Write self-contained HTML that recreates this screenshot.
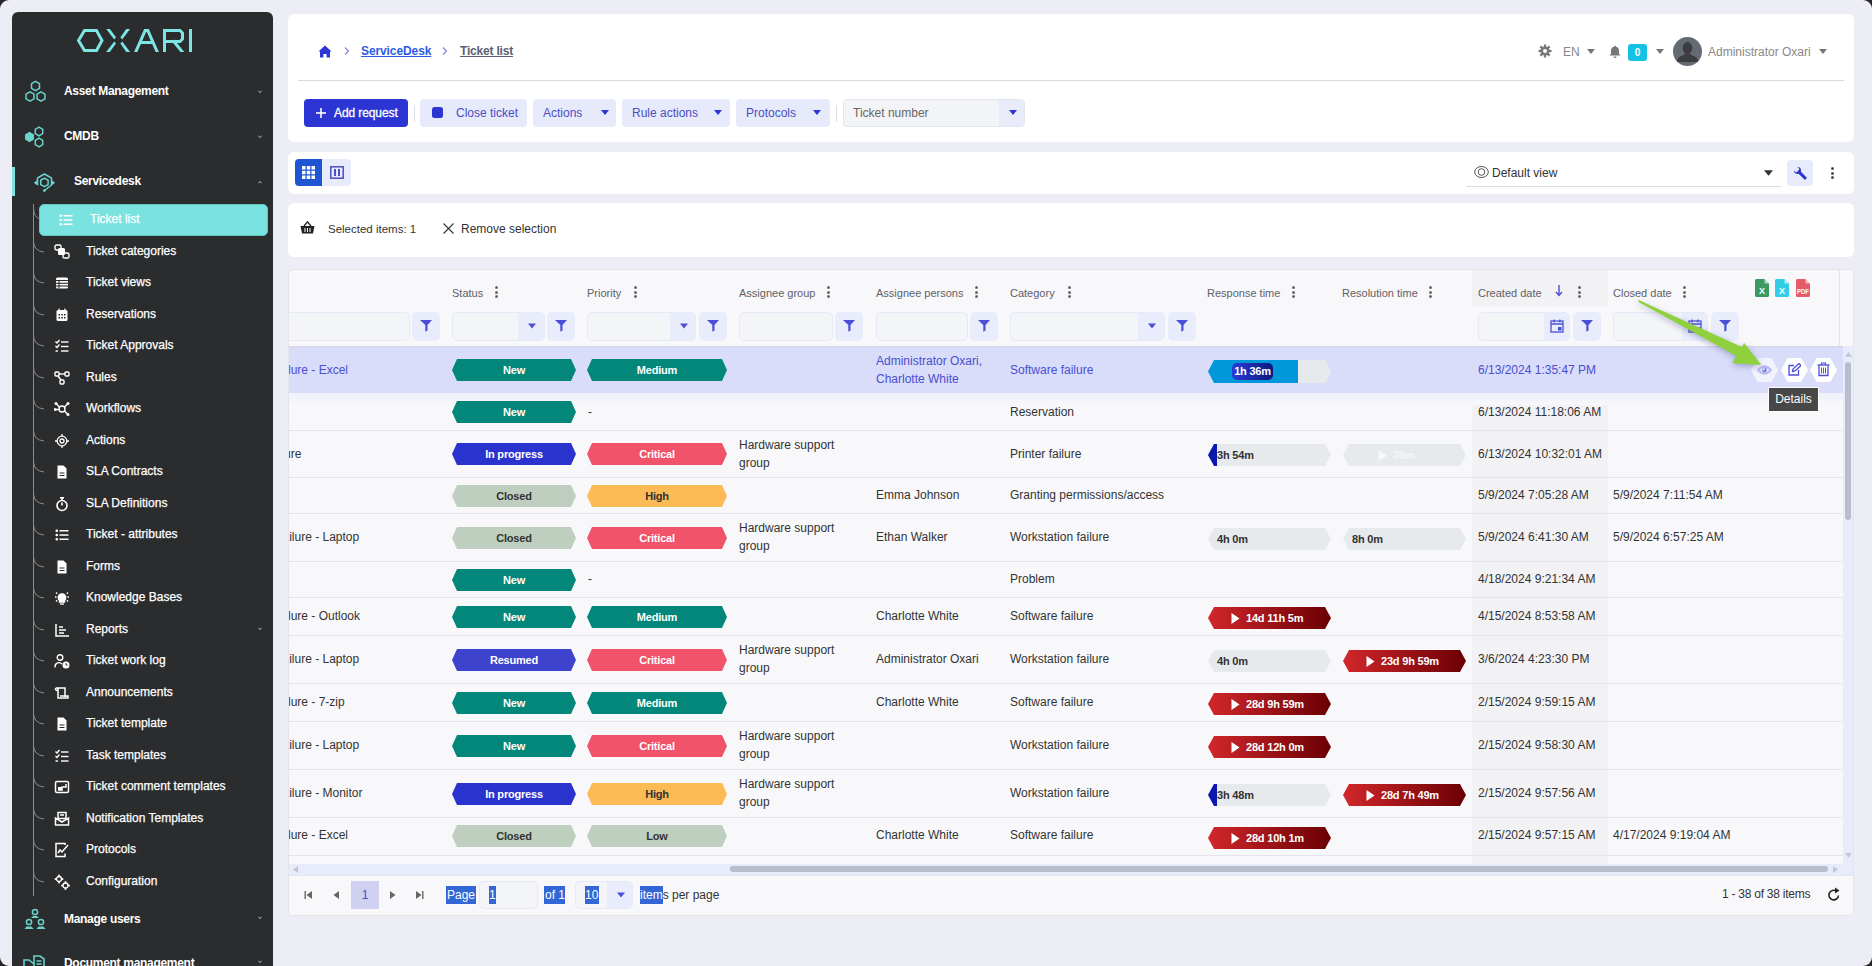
<!DOCTYPE html><html><head><meta charset="utf-8"><title>Ticket list</title><style>
*{box-sizing:border-box;margin:0;padding:0}
html,body{width:1872px;height:966px;overflow:hidden;background:#262626}
body{font-family:"Liberation Sans",sans-serif;color:#333;position:relative}
#win{position:absolute;left:0;top:0;width:1872px;height:966px;background:#ededf5;border-radius:9px;overflow:hidden}
.a{position:absolute}
.t{position:absolute;white-space:nowrap;line-height:1}
.card{position:absolute;background:#fff;border-radius:6px}
#sb{position:absolute;left:12px;top:12px;width:261px;height:980px;background:#2b2c2e;border-radius:6px}
.sbt{position:absolute;white-space:nowrap;color:#fff;font-size:12px;line-height:14px;-webkit-text-stroke:0.25px #fff}
.sbm{position:absolute;white-space:nowrap;color:#fff;font-size:12px;line-height:14px;font-weight:bold;letter-spacing:-0.3px}
.chev{position:absolute;width:4px;height:4px;border-right:1px solid #aaa;border-bottom:1px solid #aaa;transform:rotate(45deg)}
.btn{position:absolute;border-radius:4px;background:#e7eafb;height:28px}
.hdr{position:absolute;font-size:11px;color:#606066;white-space:nowrap;line-height:12px}
.keb{position:absolute;width:3px}
.keb i{display:block;width:3px;height:3px;border-radius:1px;background:#555;margin-bottom:1.5px;transform:scale(.85)}
.inp{position:absolute;height:29px;top:312px;background:#f4f5f9;border:1px solid #e6e9f8;border-radius:5px;overflow:hidden}
.dd{position:absolute;top:0;right:0;height:27px;background:#e9edfb}
.fb{position:absolute;top:312px;height:29px;width:28px;background:#e9edfb;border-radius:5px}
.row{position:absolute;left:289px;width:1551px;border-bottom:1px solid #e4e4ea}
.cell{position:absolute;white-space:nowrap;font-size:12px;line-height:18px;color:#333}
.badge{position:absolute;height:22px;clip-path:polygon(5px 0,calc(100% - 5px) 0,100% 50%,calc(100% - 5px) 100%,5px 100%,0 50%);color:#fff;font-weight:bold;font-size:11px;line-height:22px;text-align:center;letter-spacing:-0.2px}
.bar{position:absolute;height:22px;width:123px;clip-path:polygon(6px 0,calc(100% - 6px) 0,100% 50%,calc(100% - 6px) 100%,6px 100%,0 50%);font-weight:bold;font-size:11px;line-height:23px;letter-spacing:-0.2px;white-space:nowrap}
.grey{background:#e7eaed;color:#333}
.red{background:linear-gradient(90deg,#d2272b,#6a0005);color:#fff}
</style></head><body><div id="win"><div id="sb"></div><svg class="a" style="left:70px;top:22px" width="130" height="36" viewBox="0 0 130 36"><defs><clipPath id="lc"><rect x="0" y="6.9" width="130" height="23"/></clipPath></defs>
<g clip-path="url(#lc)"><g fill="none" stroke="#7de6e3" stroke-width="3" stroke-linejoin="miter">
<polygon points="8.5,18.5 14.5,8.5 26.5,8.5 32,18.5 26.5,28.5 14.5,28.5" />
</g><g fill="#7de6e3"><polygon points="36.1,6.9 39.8,6.9 46,15.2 44.3,17.4"/><polygon points="36.1,29.9 39.8,29.9 46,21.6 44.3,19.4"/><polygon points="60.1,6.9 56.3,6.9 50.4,15.2 52.2,17.4"/><polygon points="60.1,29.9 56.3,29.9 50.4,21.6 52.2,19.4"/></g><g fill="none" stroke="#7de6e3" stroke-width="3" stroke-linejoin="miter">
<polyline points="64.6,32.5 75.2,8.4 77.8,8.4 88.4,32.5" />
<line x1="69" y1="20.5" x2="84" y2="20.5" />
<polyline points="94.5,30 94.5,8.5 110,8.5 112.5,11 112.5,17 110,19.5 94.5,19.5" />
<line x1="103" y1="18.5" x2="114" y2="32" />
<line x1="120.5" y1="7" x2="120.5" y2="30" />
</g></g></svg><svg class="a" style="left:23px;top:80px" width="25" height="24" viewBox="0 0 25 24"><g fill="none" stroke="#68d3cd" stroke-width="1.5"><polygon points="16.48,8.30 12.50,10.60 8.52,8.30 8.52,3.70 12.50,1.40 16.48,3.70"/><polygon points="10.98,18.80 7.00,21.10 3.02,18.80 3.02,14.20 7.00,11.90 10.98,14.20"/><polygon points="21.98,18.80 18.00,21.10 14.02,18.80 14.02,14.20 18.00,11.90 21.98,14.20"/></g></svg><div class="sbm" style="left:64px;top:84px">Asset Management</div><div class="chev" style="left:258px;top:89px;transform:rotate(45deg) scale(.7)"></div><svg class="a" style="left:24px;top:125px" width="23" height="24" viewBox="0 0 23 24"><g stroke="#68d3cd" stroke-width="1.5"><polygon fill="#68d3cd" points="9.22,14.15 5.50,16.30 1.78,14.15 1.78,9.85 5.50,7.70 9.22,9.85"/><polygon fill="none" points="18.72,8.65 15.00,10.80 11.28,8.65 11.28,4.35 15.00,2.20 18.72,4.35"/><polygon fill="none" points="18.72,19.65 15.00,21.80 11.28,19.65 11.28,15.35 15.00,13.20 18.72,15.35"/></g></svg><div class="sbm" style="left:64px;top:129px">CMDB</div><div class="chev" style="left:258px;top:134px;transform:rotate(45deg) scale(.7)"></div><div class="a" style="left:12px;top:167px;width:3px;height:29px;background:#7de6e3"></div><svg class="a" style="left:33px;top:172px" width="23" height="21" viewBox="0 0 23 21"><g fill="none" stroke="#68d3cd" stroke-width="1.5" stroke-linejoin="round"><polyline points="4.5,13 4.5,6 11.4,2 18.5,6 18.5,13 11.5,18.5"/><polygon points="15.12,12.55 11.40,14.70 7.68,12.55 7.68,8.25 11.40,6.10 15.12,8.25"/></g><circle cx="11.4" cy="18.6" r="1.4" fill="#68d3cd"/><polygon fill="#68d3cd" points="0.8,10.8 4.8,7.8 4.8,13.8"/><polygon fill="#68d3cd" points="22.2,10.8 18.2,7.8 18.2,13.8"/></svg><div class="sbm" style="left:74px;top:174px">Servicedesk</div><div class="chev" style="left:258px;top:181px;transform:rotate(225deg) scale(.7)"></div><div class="a" style="left:33px;top:204px;width:1px;height:692px;background:#8c8c8c"></div><div class="a" style="left:39px;top:204px;width:229px;height:32px;background:#7ae2df;border:1px solid #62c9c5;border-radius:5px"></div><svg class="a" style="left:33px;top:204px" width="8" height="16" viewBox="0 0 8 16"><path d="M0.5,5 Q1,13 7,15" fill="none" stroke="#8c8c8c" stroke-width="1"/></svg><svg class="a" style="left:59px;top:214px" width="14" height="12" viewBox="0 0 14 12"><g fill="#fff"><rect x="0.5" y="0.5" width="2.5" height="2.5" rx="1"/><rect x="0.5" y="4.8" width="2.5" height="2.5" rx="1"/><rect x="0.5" y="9" width="2.5" height="2.5" rx="1"/><rect x="4.5" y="1" width="9" height="1.5"/><rect x="4.5" y="5.3" width="9" height="1.5"/><rect x="4.5" y="9.5" width="9" height="1.5"/></g></svg><div class="sbt" style="left:90px;top:212px">Ticket list</div><svg class="a" style="left:33px;top:242px" width="12" height="12" viewBox="0 0 12 12"><path d="M0.5,0 Q1,9 11,10" fill="none" stroke="#8c8c8c" stroke-width="1"/></svg><svg class="a" style="left:54px;top:244px" width="16" height="16" viewBox="0 0 16 16"><rect x="1" y="1" width="6" height="5" rx="1.5" fill="none" stroke="#fff" stroke-width="1.4"/><rect x="4" y="4" width="7" height="7" rx="1.5" fill="#fff"/><rect x="9" y="9" width="6" height="5" rx="1.5" fill="none" stroke="#fff" stroke-width="1.4"/></svg><div class="sbt" style="left:86px;top:244px">Ticket categories</div><svg class="a" style="left:33px;top:273px" width="12" height="12" viewBox="0 0 12 12"><path d="M0.5,0 Q1,9 11,10" fill="none" stroke="#8c8c8c" stroke-width="1"/></svg><svg class="a" style="left:54px;top:275px" width="16" height="16" viewBox="0 0 16 16"><rect x="2" y="2.5" width="12" height="11" rx="1.5" fill="#fff"/><g stroke="#2b2c2e" stroke-width="1.1"><line x1="2" y1="5.5" x2="14" y2="5.5"/><line x1="2" y1="8.3" x2="14" y2="8.3"/><line x1="2" y1="11" x2="14" y2="11"/><line x1="5" y1="5.5" x2="5" y2="13.5"/></g></svg><div class="sbt" style="left:86px;top:275px">Ticket views</div><svg class="a" style="left:33px;top:305px" width="12" height="12" viewBox="0 0 12 12"><path d="M0.5,0 Q1,9 11,10" fill="none" stroke="#8c8c8c" stroke-width="1"/></svg><svg class="a" style="left:54px;top:307px" width="16" height="16" viewBox="0 0 16 16"><rect x="2.5" y="3" width="11" height="11" rx="1.5" fill="#fff"/><rect x="4.5" y="1.5" width="1.2" height="3" fill="#fff"/><rect x="10.3" y="1.5" width="1.2" height="3" fill="#fff"/><g fill="#2b2c2e"><rect x="4.5" y="7" width="1.5" height="1.5"/><rect x="7.3" y="7" width="1.5" height="1.5"/><rect x="10" y="7" width="1.5" height="1.5"/><rect x="4.5" y="10" width="1.5" height="1.5"/><rect x="7.3" y="10" width="1.5" height="1.5"/><rect x="10" y="10" width="1.5" height="1.5"/></g></svg><div class="sbt" style="left:86px;top:307px">Reservations</div><svg class="a" style="left:33px;top:336px" width="12" height="12" viewBox="0 0 12 12"><path d="M0.5,0 Q1,9 11,10" fill="none" stroke="#8c8c8c" stroke-width="1"/></svg><svg class="a" style="left:54px;top:338px" width="16" height="16" viewBox="0 0 16 16"><g stroke="#fff" stroke-width="1.4" fill="none"><polyline points="1.5,3.5 3,5 5.5,2"/><polyline points="1.5,8 3,9.5 5.5,6.5"/><line x1="1.5" y1="13" x2="4" y2="13"/><line x1="7" y1="4" x2="14.5" y2="4"/><line x1="7" y1="8.5" x2="14.5" y2="8.5"/><line x1="7" y1="13" x2="14.5" y2="13"/></g></svg><div class="sbt" style="left:86px;top:338px">Ticket Approvals</div><svg class="a" style="left:33px;top:368px" width="12" height="12" viewBox="0 0 12 12"><path d="M0.5,0 Q1,9 11,10" fill="none" stroke="#8c8c8c" stroke-width="1"/></svg><svg class="a" style="left:54px;top:370px" width="16" height="16" viewBox="0 0 16 16"><g stroke="#fff" stroke-width="1.4" fill="none"><rect x="1" y="2" width="4" height="4" rx="1"/><rect x="11" y="2" width="4" height="4" rx="1"/><rect x="6" y="10" width="4" height="4" rx="1"/><line x1="5" y1="4" x2="11" y2="4"/><line x1="4" y1="6" x2="7" y2="10"/></g></svg><div class="sbt" style="left:86px;top:370px">Rules</div><svg class="a" style="left:33px;top:399px" width="12" height="12" viewBox="0 0 12 12"><path d="M0.5,0 Q1,9 11,10" fill="none" stroke="#8c8c8c" stroke-width="1"/></svg><svg class="a" style="left:54px;top:401px" width="16" height="16" viewBox="0 0 16 16"><g stroke="#fff" stroke-width="1.4" fill="none"><circle cx="8" cy="8" r="3"/><line x1="5.5" y1="6" x2="2.5" y2="3"/><line x1="10.5" y1="6" x2="13.5" y2="3"/><line x1="5" y1="8.5" x2="1" y2="8.5"/><line x1="10.5" y1="10" x2="13.5" y2="13"/></g><g fill="#fff"><circle cx="2" cy="2.5" r="1.5"/><circle cx="14" cy="2.5" r="1.5"/><circle cx="1.2" cy="8.5" r="1.5"/><circle cx="14" cy="13.5" r="1.5"/></g></svg><div class="sbt" style="left:86px;top:401px">Workflows</div><svg class="a" style="left:33px;top:431px" width="12" height="12" viewBox="0 0 12 12"><path d="M0.5,0 Q1,9 11,10" fill="none" stroke="#8c8c8c" stroke-width="1"/></svg><svg class="a" style="left:54px;top:433px" width="16" height="16" viewBox="0 0 16 16"><g stroke="#fff" stroke-width="1.3" fill="none"><circle cx="8" cy="8" r="4.8"/><circle cx="8" cy="8" r="2"/><line x1="8" y1="1" x2="8" y2="3"/><line x1="8" y1="13" x2="8" y2="15"/><line x1="1" y1="8" x2="3" y2="8"/><line x1="13" y1="8" x2="15" y2="8"/></g></svg><div class="sbt" style="left:86px;top:433px">Actions</div><svg class="a" style="left:33px;top:462px" width="12" height="12" viewBox="0 0 12 12"><path d="M0.5,0 Q1,9 11,10" fill="none" stroke="#8c8c8c" stroke-width="1"/></svg><svg class="a" style="left:54px;top:464px" width="16" height="16" viewBox="0 0 16 16"><path d="M3.5,1.5 h6 l3,3 v10 h-9 z" fill="#fff"/><g stroke="#2b2c2e" stroke-width="1"><line x1="5.5" y1="9" x2="10.5" y2="9"/><line x1="5.5" y1="11.5" x2="10.5" y2="11.5"/></g></svg><div class="sbt" style="left:86px;top:464px">SLA Contracts</div><svg class="a" style="left:33px;top:494px" width="12" height="12" viewBox="0 0 12 12"><path d="M0.5,0 Q1,9 11,10" fill="none" stroke="#8c8c8c" stroke-width="1"/></svg><svg class="a" style="left:54px;top:496px" width="16" height="16" viewBox="0 0 16 16"><g stroke="#fff" stroke-width="1.6" fill="none"><circle cx="8" cy="9.5" r="5"/><line x1="8" y1="9.5" x2="8" y2="6.5"/><line x1="6" y1="1.8" x2="10" y2="1.8"/><line x1="8" y1="2" x2="8" y2="4.5"/></g></svg><div class="sbt" style="left:86px;top:496px">SLA Definitions</div><svg class="a" style="left:33px;top:525px" width="12" height="12" viewBox="0 0 12 12"><path d="M0.5,0 Q1,9 11,10" fill="none" stroke="#8c8c8c" stroke-width="1"/></svg><svg class="a" style="left:54px;top:527px" width="16" height="16" viewBox="0 0 16 16"><g fill="#fff"><rect x="1.5" y="2.5" width="2.5" height="2.5" rx="1"/><rect x="1.5" y="6.8" width="2.5" height="2.5" rx="1"/><rect x="1.5" y="11" width="2.5" height="2.5" rx="1"/><rect x="5.5" y="3" width="9" height="1.5"/><rect x="5.5" y="7.3" width="9" height="1.5"/><rect x="5.5" y="11.5" width="9" height="1.5"/></g></svg><div class="sbt" style="left:86px;top:527px">Ticket - attributes</div><svg class="a" style="left:33px;top:557px" width="12" height="12" viewBox="0 0 12 12"><path d="M0.5,0 Q1,9 11,10" fill="none" stroke="#8c8c8c" stroke-width="1"/></svg><svg class="a" style="left:54px;top:559px" width="16" height="16" viewBox="0 0 16 16"><path d="M3.5,1.5 h6 l3,3 v10 h-9 z" fill="#fff"/><g stroke="#2b2c2e" stroke-width="1"><line x1="5.5" y1="9" x2="10.5" y2="9"/><line x1="5.5" y1="11.5" x2="10.5" y2="11.5"/></g></svg><div class="sbt" style="left:86px;top:559px">Forms</div><svg class="a" style="left:33px;top:588px" width="12" height="12" viewBox="0 0 12 12"><path d="M0.5,0 Q1,9 11,10" fill="none" stroke="#8c8c8c" stroke-width="1"/></svg><svg class="a" style="left:54px;top:590px" width="16" height="16" viewBox="0 0 16 16"><g stroke="#fff" stroke-width="1.3" fill="none"><path d="M5.5,10.5 a3.8,3.8 0 1 1 5,0 v1.5 h-5 z" fill="#fff"/><line x1="6" y1="14" x2="10" y2="14"/><line x1="1" y1="7" x2="2.5" y2="7"/><line x1="13.5" y1="7" x2="15" y2="7"/><line x1="2" y1="2.5" x2="3.2" y2="3.7"/><line x1="14" y1="2.5" x2="12.8" y2="3.7"/><line x1="2" y1="11.5" x2="3.2" y2="10.3"/><line x1="14" y1="11.5" x2="12.8" y2="10.3"/></g></svg><div class="sbt" style="left:86px;top:590px">Knowledge Bases</div><svg class="a" style="left:33px;top:620px" width="12" height="12" viewBox="0 0 12 12"><path d="M0.5,0 Q1,9 11,10" fill="none" stroke="#8c8c8c" stroke-width="1"/></svg><svg class="a" style="left:54px;top:622px" width="16" height="16" viewBox="0 0 16 16"><g stroke="#fff" stroke-width="1.5" fill="none"><polyline points="2,2 2,14 15,14"/><line x1="5" y1="5" x2="9" y2="5"/><line x1="5" y1="8" x2="12" y2="8"/><line x1="5" y1="11" x2="10" y2="11"/></g></svg><div class="sbt" style="left:86px;top:622px">Reports</div><div class="chev" style="left:258px;top:626px;transform:rotate(45deg) scale(.7)"></div><svg class="a" style="left:33px;top:651px" width="12" height="12" viewBox="0 0 12 12"><path d="M0.5,0 Q1,9 11,10" fill="none" stroke="#8c8c8c" stroke-width="1"/></svg><svg class="a" style="left:54px;top:653px" width="16" height="16" viewBox="0 0 16 16"><g stroke="#fff" stroke-width="1.4" fill="none"><circle cx="6" cy="4.5" r="2.8"/><path d="M1,14.5 v-1 a4,4 0 0 1 7,-2.5"/></g><circle cx="12" cy="12" r="3.5" fill="#fff"/><path d="M12,10 v2 h1.5" stroke="#2b2c2e" stroke-width="1" fill="none"/></svg><div class="sbt" style="left:86px;top:653px">Ticket work log</div><svg class="a" style="left:33px;top:683px" width="12" height="12" viewBox="0 0 12 12"><path d="M0.5,0 Q1,9 11,10" fill="none" stroke="#8c8c8c" stroke-width="1"/></svg><svg class="a" style="left:54px;top:685px" width="16" height="16" viewBox="0 0 16 16"><g stroke="#fff" stroke-width="1.5" fill="none"><path d="M2,3 h9 v9"/><path d="M4,3 v10 h10 v-2 h-8"/><path d="M2,3 a1.2,1.2 0 0 0 2,2"/></g></svg><div class="sbt" style="left:86px;top:685px">Announcements</div><svg class="a" style="left:33px;top:714px" width="12" height="12" viewBox="0 0 12 12"><path d="M0.5,0 Q1,9 11,10" fill="none" stroke="#8c8c8c" stroke-width="1"/></svg><svg class="a" style="left:54px;top:716px" width="16" height="16" viewBox="0 0 16 16"><path d="M3.5,1.5 h6 l3,3 v10 h-9 z" fill="#fff"/><g stroke="#2b2c2e" stroke-width="1"><line x1="5.5" y1="9" x2="10.5" y2="9"/><line x1="5.5" y1="11.5" x2="10.5" y2="11.5"/></g></svg><div class="sbt" style="left:86px;top:716px">Ticket template</div><svg class="a" style="left:33px;top:746px" width="12" height="12" viewBox="0 0 12 12"><path d="M0.5,0 Q1,9 11,10" fill="none" stroke="#8c8c8c" stroke-width="1"/></svg><svg class="a" style="left:54px;top:748px" width="16" height="16" viewBox="0 0 16 16"><g stroke="#fff" stroke-width="1.4" fill="none"><polyline points="1.5,3.5 3,5 5.5,2"/><polyline points="1.5,8 3,9.5 5.5,6.5"/><line x1="1.5" y1="13" x2="4" y2="13"/><line x1="7" y1="4" x2="14.5" y2="4"/><line x1="7" y1="8.5" x2="14.5" y2="8.5"/><line x1="7" y1="13" x2="14.5" y2="13"/></g></svg><div class="sbt" style="left:86px;top:748px">Task templates</div><svg class="a" style="left:33px;top:777px" width="12" height="12" viewBox="0 0 12 12"><path d="M0.5,0 Q1,9 11,10" fill="none" stroke="#8c8c8c" stroke-width="1"/></svg><svg class="a" style="left:54px;top:779px" width="16" height="16" viewBox="0 0 16 16"><rect x="1.5" y="2.5" width="13" height="11" rx="1.5" fill="none" stroke="#fff" stroke-width="1.5"/><path d="M4,11 h4 v-3 h4 v-3" stroke="#fff" stroke-width="1.5" fill="none"/><rect x="4" y="8" width="4" height="3" fill="#fff"/></svg><div class="sbt" style="left:86px;top:779px">Ticket comment templates</div><svg class="a" style="left:33px;top:809px" width="12" height="12" viewBox="0 0 12 12"><path d="M0.5,0 Q1,9 11,10" fill="none" stroke="#8c8c8c" stroke-width="1"/></svg><svg class="a" style="left:54px;top:811px" width="16" height="16" viewBox="0 0 16 16"><g stroke="#fff" stroke-width="1.5" fill="none"><rect x="4" y="1.5" width="8" height="6"/><path d="M1.5,7 v7 h13 v-7 l-6.5,4 z"/><line x1="6" y1="4" x2="10" y2="4"/></g></svg><div class="sbt" style="left:86px;top:811px">Notification Templates</div><svg class="a" style="left:33px;top:840px" width="12" height="12" viewBox="0 0 12 12"><path d="M0.5,0 Q1,9 11,10" fill="none" stroke="#8c8c8c" stroke-width="1"/></svg><svg class="a" style="left:54px;top:842px" width="16" height="16" viewBox="0 0 16 16"><g stroke="#fff" stroke-width="1.5" fill="none"><path d="M11,3 v-1.5 h-9 v13 h9 v-3"/><path d="M4,11 l2,-3 l2,2 l6,-7"/></g></svg><div class="sbt" style="left:86px;top:842px">Protocols</div><svg class="a" style="left:33px;top:872px" width="12" height="12" viewBox="0 0 12 12"><path d="M0.5,0 Q1,9 11,10" fill="none" stroke="#8c8c8c" stroke-width="1"/></svg><svg class="a" style="left:54px;top:874px" width="16" height="16" viewBox="0 0 16 16"><g stroke="#fff" stroke-width="1.3" fill="none"><circle cx="5" cy="5" r="2.5"/><circle cx="11.5" cy="11.5" r="2.5"/></g><g fill="#fff"><circle cx="5" cy="1.5" r="1"/><circle cx="5" cy="8.5" r="1"/><circle cx="1.5" cy="5" r="1"/><circle cx="8.5" cy="5" r="1"/><circle cx="11.5" cy="8" r="1"/><circle cx="11.5" cy="15" r="1"/><circle cx="8" cy="11.5" r="1"/><circle cx="15" cy="11.5" r="1"/></g></svg><div class="sbt" style="left:86px;top:874px">Configuration</div><svg class="a" style="left:23px;top:908px" width="24" height="22" viewBox="0 0 24 22"><g fill="none" stroke="#68d3cd" stroke-width="1.5"><circle cx="12" cy="4" r="2.6"/><circle cx="6" cy="14" r="2.6"/><circle cx="18" cy="14" r="2.6"/></g><g fill="#68d3cd"><path d="M8,10 h8 l-2,-2 h-4 z"/><path d="M1.5,21 h9 l-2,-2.5 h-5 z"/><path d="M13.5,21 h9 l-2,-2.5 h-5 z"/></g></svg><div class="sbm" style="left:64px;top:912px">Manage users</div><div class="chev" style="left:258px;top:915px;transform:rotate(45deg) scale(.7)"></div><svg class="a" style="left:23px;top:955px" width="24" height="14" viewBox="0 0 24 14"><g fill="none" stroke="#68d3cd" stroke-width="1.6"><path d="M1,13 v-8 h5 l5,4"/><path d="M11,13 v-12 h6 l4,3 v9"/><line x1="13.5" y1="6" x2="18.5" y2="6"/><line x1="13.5" y1="9" x2="18.5" y2="9"/></g></svg><div class="sbm" style="left:64px;top:956px">Document management</div><div class="chev" style="left:258px;top:959px;transform:rotate(45deg) scale(.7)"></div><div class="card" style="left:288px;top:14px;width:1566px;height:128px"></div><svg class="a" style="left:318px;top:45px" width="14" height="13" viewBox="0 0 14 13"><path d="M7,0.5 L13.5,6.5 L12,6.5 L12,12.5 L8.6,12.5 L8.6,9 L5.4,9 L5.4,12.5 L2,12.5 L2,6.5 L0.5,6.5 Z" fill="#2c35d3"/></svg><svg class="a" style="left:344px;top:47px" width="6" height="8" viewBox="0 0 6 8"><polyline points="1,0.5 4.5,4 1,7.5" fill="none" stroke="#7d80dd" stroke-width="1.1"/></svg><div class="t" style="left:361px;top:44px;font-size:12px;line-height:14px;color:#2d5be6;font-weight:bold;letter-spacing:-0.1px;text-decoration:underline">ServiceDesk</div><svg class="a" style="left:442px;top:47px" width="6" height="8" viewBox="0 0 6 8"><polyline points="1,0.5 4.5,4 1,7.5" fill="none" stroke="#7d80dd" stroke-width="1.1"/></svg><div class="t" style="left:460px;top:44px;font-size:12px;line-height:14px;color:#5b6172;font-weight:bold;letter-spacing:-0.2px;text-decoration:underline">Ticket list</div><svg class="a" style="left:1538px;top:44px" width="14" height="14" viewBox="0 0 14 14"><g fill="#777"><circle cx="7" cy="7" r="4.6"/></g><g stroke="#777" stroke-width="2.2"><line x1="7" y1="0.5" x2="7" y2="13.5"/><line x1="0.5" y1="7" x2="13.5" y2="7"/><line x1="2.4" y1="2.4" x2="11.6" y2="11.6"/><line x1="11.6" y1="2.4" x2="2.4" y2="11.6"/></g><circle cx="7" cy="7" r="2" fill="#fff"/></svg><div class="t" style="left:1563px;top:45px;font-size:12px;line-height:14px;color:#888">EN</div><svg class="a" style="left:1587px;top:49px" width="8" height="5" viewBox="0 0 8 5"><polygon points="0,0 8,0 4,5" fill="#777"/></svg><svg class="a" style="left:1609px;top:45px" width="12" height="13" viewBox="0 0 12 13"><path d="M6,0.8 a1,1 0 0 1 1,1 a4,4 0 0 1 3,3.8 v3.2 l1.5,1.7 h-11 l1.5,-1.7 v-3.2 a4,4 0 0 1 3,-3.8 a1,1 0 0 1 1,-1 z" fill="#777"/><path d="M4.5,11.5 h3 a1.5,1.5 0 0 1 -3,0z" fill="#777"/></svg><div class="a" style="left:1628px;top:44px;width:19px;height:17px;background:#14c2e3;border-radius:3px;color:#fff;font-size:10px;font-weight:bold;line-height:17px;text-align:center">0</div><svg class="a" style="left:1656px;top:49px" width="8" height="5" viewBox="0 0 8 5"><polygon points="0,0 8,0 4,5" fill="#777"/></svg><div class="a" style="left:1673px;top:37px;width:29px;height:29px;border-radius:50%;background:#656b73;overflow:hidden"><svg width="29" height="29" viewBox="0 0 29 29"><ellipse cx="14.5" cy="11" rx="4.8" ry="6" fill="#3b3d40"/><path d="M3.5,25 Q4.5,19.5 10,18.5 L12,16.5 h5 L19,18.5 Q24.5,19.5 25.5,25 z" fill="#3b3d40"/></svg></div><div class="t" style="left:1708px;top:45px;font-size:12px;line-height:14px;color:#888">Administrator Oxari</div><svg class="a" style="left:1819px;top:49px" width="8" height="5" viewBox="0 0 8 5"><polygon points="0,0 8,0 4,5" fill="#777"/></svg><div class="a" style="left:298px;top:80px;width:1546px;height:1px;background:#d9d9de"></div><div class="a" style="left:304px;top:99px;width:104px;height:28px;background:#2c35d3;border-radius:4px"></div><svg class="a" style="left:316px;top:108px" width="10" height="10" viewBox="0 0 10 10"><g stroke="#fff" stroke-width="1.6"><line x1="5" y1="0" x2="5" y2="10"/><line x1="0" y1="5" x2="10" y2="5"/></g></svg><div class="t" style="left:334px;top:106px;font-size:12px;line-height:14px;color:#fff;-webkit-text-stroke:0.3px #fff;letter-spacing:-0.1px">Add request</div><div class="a" style="left:414px;top:105px;width:1px;height:17px;background:#dcdce3"></div><div class="btn" style="left:420px;top:99px;width:107px"></div><div class="a" style="left:432px;top:107px;width:11px;height:11px;background:#2c35d3;border-radius:2.5px"></div><div class="t" style="left:456px;top:106px;font-size:12px;line-height:14px;color:#4a4ec2">Close ticket</div><div class="btn" style="left:533px;top:99px;width:83px"></div><div class="t" style="left:543px;top:106px;font-size:12px;line-height:14px;color:#4a4ec2">Actions</div><svg class="a" style="left:601px;top:110px" width="8" height="5" viewBox="0 0 8 5"><polygon points="0,0 8,0 4,5" fill="#2c35d3"/></svg><div class="btn" style="left:622px;top:99px;width:108px"></div><div class="t" style="left:632px;top:106px;font-size:12px;line-height:14px;color:#4a4ec2">Rule actions</div><svg class="a" style="left:714px;top:110px" width="8" height="5" viewBox="0 0 8 5"><polygon points="0,0 8,0 4,5" fill="#2c35d3"/></svg><div class="btn" style="left:736px;top:99px;width:94px"></div><div class="t" style="left:746px;top:106px;font-size:12px;line-height:14px;color:#4a4ec2">Protocols</div><svg class="a" style="left:813px;top:110px" width="8" height="5" viewBox="0 0 8 5"><polygon points="0,0 8,0 4,5" fill="#2c35d3"/></svg><div class="a" style="left:836px;top:105px;width:1px;height:17px;background:#dcdce3"></div><div class="a" style="left:843px;top:99px;width:182px;height:28px;background:#f3f4f8;border:1px solid #e3e6ef;border-radius:4px;overflow:hidden"><div class="a" style="right:0;top:0;width:25px;height:26px;background:#e8ebfa"></div></div><div class="t" style="left:853px;top:106px;font-size:12px;line-height:14px;color:#666">Ticket number</div><svg class="a" style="left:1009px;top:110px" width="8" height="5" viewBox="0 0 8 5"><polygon points="0,0 8,0 4,5" fill="#2c35d3"/></svg><div class="card" style="left:288px;top:152px;width:1566px;height:42px"></div><div class="a" style="left:295px;top:159px;width:56px;height:27px;background:#e8ebfb;border-radius:4px"></div><div class="a" style="left:295px;top:159px;width:27px;height:27px;background:#1d55d3;border-radius:4px 0 0 4px"></div><svg class="a" style="left:302px;top:166px" width="13" height="13" viewBox="0 0 13 13"><g fill="#fff"><rect x="0" y="0" width="3.5" height="3.5"/><rect x="4.75" y="0" width="3.5" height="3.5"/><rect x="9.5" y="0" width="3.5" height="3.5"/><rect x="0" y="4.75" width="3.5" height="3.5"/><rect x="4.75" y="4.75" width="3.5" height="3.5"/><rect x="9.5" y="4.75" width="3.5" height="3.5"/><rect x="0" y="9.5" width="3.5" height="3.5"/><rect x="4.75" y="9.5" width="3.5" height="3.5"/><rect x="9.5" y="9.5" width="3.5" height="3.5"/></g></svg><svg class="a" style="left:330px;top:166px" width="14" height="13" viewBox="0 0 14 13"><rect x="0.8" y="0.8" width="12.4" height="11.4" fill="none" stroke="#4a4ec2" stroke-width="1.5"/><rect x="4" y="3" width="2" height="7" fill="#4a4ec2"/><rect x="8" y="3" width="2" height="7" fill="#4a4ec2"/></svg><svg class="a" style="left:1474px;top:165px" width="15" height="14" viewBox="0 0 15 14"><ellipse cx="7.5" cy="7" rx="6.8" ry="5.5" fill="none" stroke="#555" stroke-width="1"/><circle cx="7.5" cy="7" r="3.3" fill="none" stroke="#555" stroke-width="1"/></svg><div class="t" style="left:1492px;top:166px;font-size:12px;line-height:14px;color:#333">Default view</div><svg class="a" style="left:1764px;top:170px" width="9" height="6" viewBox="0 0 8 5"><polygon points="0,0 8,0 4,5" fill="#333"/></svg><div class="a" style="left:1466px;top:186px;width:315px;height:1px;background:#d9dce6"></div><div class="a" style="left:1787px;top:160px;width:26px;height:26px;background:#e8ebfb;border-radius:4px"></div><svg class="a" style="left:1793px;top:166px;transform:scaleX(-1)" width="14" height="14" viewBox="0 0 14 14"><path d="M9.5,0.8 a3.6,3.6 0 0 0 -3.3,4.8 L0.9,10.9 a1.4,1.4 0 0 0 2.2,2.2 L8.4,7.8 a3.6,3.6 0 0 0 4.8,-3.3 L11,6.4 9,5 7.6,3 Z" fill="#2c35d3"/></svg><div class="keb" style="left:1831px;top:167px"><i style="background:#333"></i><i style="background:#333"></i><i style="background:#333"></i></div><div class="card" style="left:288px;top:203px;width:1566px;height:54px"></div><svg class="a" style="left:300px;top:221px" width="15" height="13" viewBox="0 0 15 13"><path d="M0.5,5 h14 l-1.5,7.5 h-11 z" fill="#222"/><path d="M4,5 l3.5,-4.2 l3.5,4.2" fill="none" stroke="#222" stroke-width="1.3"/><g stroke="#fff" stroke-width="1"><line x1="5" y1="7" x2="5" y2="11"/><line x1="7.5" y1="7" x2="7.5" y2="11"/><line x1="10" y1="7" x2="10" y2="11"/></g></svg><div class="t" style="left:328px;top:222px;font-size:11.5px;line-height:14px;color:#333">Selected items: 1</div><svg class="a" style="left:443px;top:223px" width="11" height="11" viewBox="0 0 11 11"><g stroke="#333" stroke-width="1.1"><line x1="0.5" y1="0.5" x2="10.5" y2="10.5"/><line x1="10.5" y1="0.5" x2="0.5" y2="10.5"/></g></svg><div class="t" style="left:461px;top:222px;font-size:12px;line-height:14px;color:#333">Remove selection</div><div class="a" style="left:288px;top:269px;width:1566px;height:647px;background:#f8f8fb;border:1px solid #e4e4ea;border-radius:4px"></div><div class="a" style="left:1472px;top:270px;width:136px;height:36px;background:#f2f2f5"></div><div class="a" style="left:1472px;top:393px;width:136px;height:471px;background:#f2f2f5"></div><div class="hdr" style="left:452px;top:287px">Status</div><div class="keb" style="left:495px;top:286px"><i style="background:#555"></i><i style="background:#555"></i><i style="background:#555"></i></div><div class="hdr" style="left:587px;top:287px">Priority</div><div class="keb" style="left:634px;top:286px"><i style="background:#555"></i><i style="background:#555"></i><i style="background:#555"></i></div><div class="hdr" style="left:739px;top:287px">Assignee group</div><div class="keb" style="left:827px;top:286px"><i style="background:#555"></i><i style="background:#555"></i><i style="background:#555"></i></div><div class="hdr" style="left:876px;top:287px">Assignee persons</div><div class="keb" style="left:975px;top:286px"><i style="background:#555"></i><i style="background:#555"></i><i style="background:#555"></i></div><div class="hdr" style="left:1010px;top:287px">Category</div><div class="keb" style="left:1068px;top:286px"><i style="background:#555"></i><i style="background:#555"></i><i style="background:#555"></i></div><div class="hdr" style="left:1207px;top:287px">Response time</div><div class="keb" style="left:1292px;top:286px"><i style="background:#555"></i><i style="background:#555"></i><i style="background:#555"></i></div><div class="hdr" style="left:1342px;top:287px">Resolution time</div><div class="keb" style="left:1429px;top:286px"><i style="background:#555"></i><i style="background:#555"></i><i style="background:#555"></i></div><div class="hdr" style="left:1478px;top:287px">Created date</div><div class="keb" style="left:1578px;top:286px"><i style="background:#555"></i><i style="background:#555"></i><i style="background:#555"></i></div><div class="hdr" style="left:1613px;top:287px">Closed date</div><div class="keb" style="left:1683px;top:286px"><i style="background:#555"></i><i style="background:#555"></i><i style="background:#555"></i></div><svg class="a" style="left:1555px;top:285px" width="8" height="12" viewBox="0 0 8 12"><line x1="4" y1="0" x2="4" y2="10" stroke="#4b4fd6" stroke-width="1.4"/><polyline points="1,7 4,10.5 7,7" fill="none" stroke="#4b4fd6" stroke-width="1.4"/></svg><div class="a" style="left:289px;top:312px;width:152px;height:29px;overflow:hidden"><div class="inp" style="left:-20px;top:0;width:141px"></div><div class="fb" style="left:123px;top:0"></div></div><svg class="a" style="left:419px;top:318px" width="14" height="14" viewBox="0 0 14 14"><path d="M1,2 h12 l-4.5,5 v5.5 l-2.2,1.3 v-6.8 z" fill="#4b4fd6"/></svg><div class="inp" style="left:452px;width:93px"><div class="dd" style="width:26px"></div></div><svg class="a" style="left:528px;top:323px" width="8" height="6" viewBox="0 0 8 5"><polygon points="0,0 8,0 4,5" fill="#4b4fd6"/></svg><div class="fb" style="left:547px"></div><svg class="a" style="left:554px;top:318px" width="14" height="14" viewBox="0 0 14 14"><path d="M1,2 h12 l-4.5,5 v5.5 l-2.2,1.3 v-6.8 z" fill="#4b4fd6"/></svg><div class="inp" style="left:587px;width:109px"><div class="dd" style="width:25px"></div></div><svg class="a" style="left:680px;top:323px" width="8" height="6" viewBox="0 0 8 5"><polygon points="0,0 8,0 4,5" fill="#4b4fd6"/></svg><div class="fb" style="left:699px"></div><svg class="a" style="left:706px;top:318px" width="14" height="14" viewBox="0 0 14 14"><path d="M1,2 h12 l-4.5,5 v5.5 l-2.2,1.3 v-6.8 z" fill="#4b4fd6"/></svg><div class="inp" style="left:739px;width:94px"></div><div class="fb" style="left:835px"></div><svg class="a" style="left:842px;top:318px" width="14" height="14" viewBox="0 0 14 14"><path d="M1,2 h12 l-4.5,5 v5.5 l-2.2,1.3 v-6.8 z" fill="#4b4fd6"/></svg><div class="inp" style="left:876px;width:92px"></div><div class="fb" style="left:970px"></div><svg class="a" style="left:977px;top:318px" width="14" height="14" viewBox="0 0 14 14"><path d="M1,2 h12 l-4.5,5 v5.5 l-2.2,1.3 v-6.8 z" fill="#4b4fd6"/></svg><div class="inp" style="left:1010px;width:155px"><div class="dd" style="width:26px"></div></div><svg class="a" style="left:1148px;top:323px" width="8" height="6" viewBox="0 0 8 5"><polygon points="0,0 8,0 4,5" fill="#4b4fd6"/></svg><div class="fb" style="left:1168px"></div><svg class="a" style="left:1175px;top:318px" width="14" height="14" viewBox="0 0 14 14"><path d="M1,2 h12 l-4.5,5 v5.5 l-2.2,1.3 v-6.8 z" fill="#4b4fd6"/></svg><div class="inp" style="left:1478px;width:92px"><div class="dd" style="width:25px"></div></div><svg class="a" style="left:1550px;top:319px" width="14" height="14" viewBox="0 0 14 14"><rect x="1" y="2" width="12" height="11" fill="none" stroke="#4b4fd6" stroke-width="1.3"/><line x1="1" y1="5" x2="13" y2="5" stroke="#4b4fd6" stroke-width="1.5"/><rect x="3.5" y="0.5" width="1.3" height="3" fill="#4b4fd6"/><rect x="9.2" y="0.5" width="1.3" height="3" fill="#4b4fd6"/><rect x="8" y="8" width="3.5" height="3.5" fill="#4b4fd6"/></svg><div class="fb" style="left:1573px"></div><svg class="a" style="left:1580px;top:318px" width="14" height="14" viewBox="0 0 14 14"><path d="M1,2 h12 l-4.5,5 v5.5 l-2.2,1.3 v-6.8 z" fill="#4b4fd6"/></svg><div class="inp" style="left:1613px;width:95px"><div class="dd" style="width:25px"></div></div><svg class="a" style="left:1688px;top:319px" width="14" height="14" viewBox="0 0 14 14"><rect x="1" y="2" width="12" height="11" fill="none" stroke="#4b4fd6" stroke-width="1.3"/><line x1="1" y1="5" x2="13" y2="5" stroke="#4b4fd6" stroke-width="1.5"/><rect x="3.5" y="0.5" width="1.3" height="3" fill="#4b4fd6"/><rect x="9.2" y="0.5" width="1.3" height="3" fill="#4b4fd6"/><rect x="8" y="8" width="3.5" height="3.5" fill="#4b4fd6"/></svg><div class="fb" style="left:1711px"></div><svg class="a" style="left:1718px;top:318px" width="14" height="14" viewBox="0 0 14 14"><path d="M1,2 h12 l-4.5,5 v5.5 l-2.2,1.3 v-6.8 z" fill="#4b4fd6"/></svg><svg class="a" style="left:1755px;top:279px" width="14" height="18" viewBox="0 0 14 18"><path d="M1.5,0 h8 l4.5,4.5 v12 a1.5,1.5 0 0 1 -1.5,1.5 h-11 a1.5,1.5 0 0 1 -1.5,-1.5 v-15 a1.5,1.5 0 0 1 1.5,-1.5z" fill="#3a9a62"/><path d="M9.5,0 v4.5 h4.5" fill="#fff" opacity=".6"/><text x="7" y="15" font-family="Liberation Sans" font-weight="bold" font-size="9" fill="#fff" text-anchor="middle" >X</text></svg><svg class="a" style="left:1775px;top:279px" width="14" height="18" viewBox="0 0 14 18"><path d="M1.5,0 h8 l4.5,4.5 v12 a1.5,1.5 0 0 1 -1.5,1.5 h-11 a1.5,1.5 0 0 1 -1.5,-1.5 v-15 a1.5,1.5 0 0 1 1.5,-1.5z" fill="#33cde8"/><path d="M9.5,0 v4.5 h4.5" fill="#fff" opacity=".6"/><text x="7" y="15" font-family="Liberation Sans" font-weight="bold" font-size="9" fill="#fff" text-anchor="middle" >X</text></svg><svg class="a" style="left:1796px;top:279px" width="14" height="18" viewBox="0 0 14 18"><path d="M1.5,0 h8 l4.5,4.5 v12 a1.5,1.5 0 0 1 -1.5,1.5 h-11 a1.5,1.5 0 0 1 -1.5,-1.5 v-15 a1.5,1.5 0 0 1 1.5,-1.5z" fill="#e65a6a"/><path d="M9.5,0 v4.5 h4.5" fill="#fff" opacity=".6"/><text x="7" y="15" font-family="Liberation Sans" font-weight="bold" font-size="6.5" fill="#fff" text-anchor="middle" textLength="12" lengthAdjust="spacingAndGlyphs">PDF</text></svg><div class="a" style="left:1839px;top:270px;width:1px;height:76px;background:#e4e4ea"></div><div class="a" style="left:289px;top:346px;width:1554px;height:518px;overflow:hidden"><div class="a" style="left:0;top:0;width:1554px;height:47px;background:#d9ddfa;border-top:1px solid #d4d7e4"></div><div class="a" style="left:0;top:47px;width:1554px;height:12px;background:linear-gradient(#eef0fb,#f8f8fb)"></div><div class="cell" style="left:-1.0px;top:15px;color:#4a4ed0">lure - Excel</div><div class="badge" style="left:163px;top:13px;width:124px;background:#03877a;color:#fff">New</div><div class="badge" style="left:298px;top:13px;width:140px;background:#03877a;color:#fff">Medium</div><div class="cell" style="left:587px;top:6px;color:#4a4ed0">Administrator Oxari,<br>Charlotte White</div><div class="cell" style="left:721px;top:15px;color:#4a4ed0">Software failure</div><div class="bar grey" style="left:919px;top:14px;height:23px;background:linear-gradient(90deg,#0098da 0,#0098da 90px,#e7eaed 90px)"><div class="a" style="left:24px;top:3px;height:17px;width:41px;border-radius:5px;background:linear-gradient(90deg,#2b3ad8,#0b1a7a);color:#fff;line-height:17px;text-align:center">1h 36m</div></div><div class="cell" style="left:1189px;top:15px;color:#4a4ed0">6/13/2024 1:35:47 PM</div><div class="a" style="left:0;top:84px;width:1554px;height:1px;background:#e4e4ea"></div><div class="badge" style="left:163px;top:55px;width:124px;background:#03877a;color:#fff">New</div><div class="cell" style="left:299px;top:57px">-</div><div class="cell" style="left:721px;top:57px;color:#333">Reservation</div><div class="cell" style="left:1189px;top:57px;color:#333">6/13/2024 11:18:06 AM</div><div class="a" style="left:0;top:131px;width:1554px;height:1px;background:#e4e4ea"></div><div class="cell" style="left:-5.0px;top:99px;color:#333">ure</div><div class="badge" style="left:163px;top:97px;width:124px;background:#2b33cf;color:#fff">In progress</div><div class="badge" style="left:298px;top:97px;width:140px;background:#f0536a;color:#fff">Critical</div><div class="cell" style="left:450px;top:90px">Hardware support<br>group</div><div class="cell" style="left:721px;top:99px;color:#333">Printer failure</div><div class="bar grey" style="left:919px;top:98px"><div class="a" style="left:0;top:0;width:9px;height:23px;background:#0a18b0;height:22px;clip-path:polygon(6px 0,6.5px 0,6.5px 100%%,6px 100%%,0 50%%)"></div><span class="a" style="left:9px;top:0">3h 54m</span></div><div class="bar grey" style="left:1054px;top:98px;color:#f4f5f7"><svg class="a" style="left:35px;top:6px" width="10" height="11" viewBox="0 0 10 11"><polygon points="0.5,0 9.5,5.5 0.5,11" fill="#f7f8f9"/></svg><span class="a" style="left:50px;top:0">38m</span></div><div class="cell" style="left:1189px;top:99px;color:#333">6/13/2024 10:32:01 AM</div><div class="a" style="left:0;top:167px;width:1554px;height:1px;background:#e4e4ea"></div><div class="badge" style="left:163px;top:139px;width:124px;background:#bfcfbf;color:#333">Closed</div><div class="badge" style="left:298px;top:139px;width:140px;background:#fdbb55;color:#333">High</div><div class="cell" style="left:587px;top:140px;color:#333">Emma Johnson</div><div class="cell" style="left:721px;top:140px;color:#333">Granting permissions/access</div><div class="cell" style="left:1189px;top:140px;color:#333">5/9/2024 7:05:28 AM</div><div class="cell" style="left:1324px;top:140px">5/9/2024 7:11:54 AM</div><div class="a" style="left:0;top:215px;width:1554px;height:1px;background:#e4e4ea"></div><div class="cell" style="left:-6.5px;top:182px;color:#333">ailure - Laptop</div><div class="badge" style="left:163px;top:181px;width:124px;background:#bfcfbf;color:#333">Closed</div><div class="badge" style="left:298px;top:181px;width:140px;background:#f0536a;color:#fff">Critical</div><div class="cell" style="left:450px;top:173px">Hardware support<br>group</div><div class="cell" style="left:587px;top:182px;color:#333">Ethan Walker</div><div class="cell" style="left:721px;top:182px;color:#333">Workstation failure</div><div class="bar grey" style="left:919px;top:182px"><span class="a" style="left:9px;top:0">4h 0m</span></div><div class="bar grey" style="left:1054px;top:182px"><span class="a" style="left:9px;top:0">8h 0m</span></div><div class="cell" style="left:1189px;top:182px;color:#333">5/9/2024 6:41:30 AM</div><div class="cell" style="left:1324px;top:182px">5/9/2024 6:57:25 AM</div><div class="a" style="left:0;top:251px;width:1554px;height:1px;background:#e4e4ea"></div><div class="badge" style="left:163px;top:223px;width:124px;background:#03877a;color:#fff">New</div><div class="cell" style="left:299px;top:224px">-</div><div class="cell" style="left:721px;top:224px;color:#333">Problem</div><div class="cell" style="left:1189px;top:224px;color:#333">4/18/2024 9:21:34 AM</div><div class="a" style="left:0;top:289px;width:1554px;height:1px;background:#e4e4ea"></div><div class="cell" style="left:-1.0px;top:261px;color:#333">lure - Outlook</div><div class="badge" style="left:163px;top:260px;width:124px;background:#03877a;color:#fff">New</div><div class="badge" style="left:298px;top:260px;width:140px;background:#03877a;color:#fff">Medium</div><div class="cell" style="left:587px;top:261px;color:#333">Charlotte White</div><div class="cell" style="left:721px;top:261px;color:#333">Software failure</div><div class="bar red" style="left:919px;top:261px"><svg class="a" style="left:23px;top:6px" width="9" height="11" viewBox="0 0 9 11"><polygon points="0.5,0 8.5,5.5 0.5,11" fill="#fff"/></svg><span class="a" style="left:38px;top:0">14d 11h 5m</span></div><div class="cell" style="left:1189px;top:261px;color:#333">4/15/2024 8:53:58 AM</div><div class="a" style="left:0;top:337px;width:1554px;height:1px;background:#e4e4ea"></div><div class="cell" style="left:-6.5px;top:304px;color:#333">ailure - Laptop</div><div class="badge" style="left:163px;top:303px;width:124px;background:#3d43cc;color:#fff">Resumed</div><div class="badge" style="left:298px;top:303px;width:140px;background:#f0536a;color:#fff">Critical</div><div class="cell" style="left:450px;top:295px">Hardware support<br>group</div><div class="cell" style="left:587px;top:304px;color:#333">Administrator Oxari</div><div class="cell" style="left:721px;top:304px;color:#333">Workstation failure</div><div class="bar grey" style="left:919px;top:304px"><span class="a" style="left:9px;top:0">4h 0m</span></div><div class="bar red" style="left:1054px;top:304px"><svg class="a" style="left:23px;top:6px" width="9" height="11" viewBox="0 0 9 11"><polygon points="0.5,0 8.5,5.5 0.5,11" fill="#fff"/></svg><span class="a" style="left:38px;top:0">23d 9h 59m</span></div><div class="cell" style="left:1189px;top:304px;color:#333">3/6/2024 4:23:30 PM</div><div class="a" style="left:0;top:375px;width:1554px;height:1px;background:#e4e4ea"></div><div class="cell" style="left:-1.0px;top:347px;color:#333">lure - 7-zip</div><div class="badge" style="left:163px;top:346px;width:124px;background:#03877a;color:#fff">New</div><div class="badge" style="left:298px;top:346px;width:140px;background:#03877a;color:#fff">Medium</div><div class="cell" style="left:587px;top:347px;color:#333">Charlotte White</div><div class="cell" style="left:721px;top:347px;color:#333">Software failure</div><div class="bar red" style="left:919px;top:347px"><svg class="a" style="left:23px;top:6px" width="9" height="11" viewBox="0 0 9 11"><polygon points="0.5,0 8.5,5.5 0.5,11" fill="#fff"/></svg><span class="a" style="left:38px;top:0">28d 9h 59m</span></div><div class="cell" style="left:1189px;top:347px;color:#333">2/15/2024 9:59:15 AM</div><div class="a" style="left:0;top:423px;width:1554px;height:1px;background:#e4e4ea"></div><div class="cell" style="left:-6.5px;top:390px;color:#333">ailure - Laptop</div><div class="badge" style="left:163px;top:389px;width:124px;background:#03877a;color:#fff">New</div><div class="badge" style="left:298px;top:389px;width:140px;background:#f0536a;color:#fff">Critical</div><div class="cell" style="left:450px;top:381px">Hardware support<br>group</div><div class="cell" style="left:721px;top:390px;color:#333">Workstation failure</div><div class="bar red" style="left:919px;top:390px"><svg class="a" style="left:23px;top:6px" width="9" height="11" viewBox="0 0 9 11"><polygon points="0.5,0 8.5,5.5 0.5,11" fill="#fff"/></svg><span class="a" style="left:38px;top:0">28d 12h 0m</span></div><div class="cell" style="left:1189px;top:390px;color:#333">2/15/2024 9:58:30 AM</div><div class="a" style="left:0;top:471px;width:1554px;height:1px;background:#e4e4ea"></div><div class="cell" style="left:-6.5px;top:438px;color:#333">ailure - Monitor</div><div class="badge" style="left:163px;top:437px;width:124px;background:#2b33cf;color:#fff">In progress</div><div class="badge" style="left:298px;top:437px;width:140px;background:#fdbb55;color:#333">High</div><div class="cell" style="left:450px;top:429px">Hardware support<br>group</div><div class="cell" style="left:721px;top:438px;color:#333">Workstation failure</div><div class="bar grey" style="left:919px;top:438px"><div class="a" style="left:0;top:0;width:9px;height:23px;background:#0a18b0;height:22px;clip-path:polygon(6px 0,6.5px 0,6.5px 100%%,6px 100%%,0 50%%)"></div><span class="a" style="left:9px;top:0">3h 48m</span></div><div class="bar red" style="left:1054px;top:438px"><svg class="a" style="left:23px;top:6px" width="9" height="11" viewBox="0 0 9 11"><polygon points="0.5,0 8.5,5.5 0.5,11" fill="#fff"/></svg><span class="a" style="left:38px;top:0">28d 7h 49m</span></div><div class="cell" style="left:1189px;top:438px;color:#333">2/15/2024 9:57:56 AM</div><div class="a" style="left:0;top:509px;width:1554px;height:1px;background:#e4e4ea"></div><div class="cell" style="left:-1.0px;top:480px;color:#333">lure - Excel</div><div class="badge" style="left:163px;top:479px;width:124px;background:#bfcfbf;color:#333">Closed</div><div class="badge" style="left:298px;top:479px;width:140px;background:#bfcfbf;color:#333">Low</div><div class="cell" style="left:587px;top:480px;color:#333">Charlotte White</div><div class="cell" style="left:721px;top:480px;color:#333">Software failure</div><div class="bar red" style="left:919px;top:481px"><svg class="a" style="left:23px;top:6px" width="9" height="11" viewBox="0 0 9 11"><polygon points="0.5,0 8.5,5.5 0.5,11" fill="#fff"/></svg><span class="a" style="left:38px;top:0">28d 10h 1m</span></div><div class="cell" style="left:1189px;top:480px;color:#333">2/15/2024 9:57:15 AM</div><div class="cell" style="left:1324px;top:480px">4/17/2024 9:19:04 AM</div></div><div class="a" style="left:1751px;top:358px;width:27px;height:24px;background:#fff;clip-path:polygon(25% 0,75% 0,100% 50%,75% 100%,25% 100%,0 50%)"></div><svg class="a" style="left:1757px;top:364px" width="15" height="12" viewBox="0 0 15 12"><path d="M1.2,6 Q7.5,-1.2 13.8,6 Q7.5,13.2 1.2,6z" fill="none" stroke="#a6a9ef" stroke-width="2.2"/><circle cx="7.5" cy="6" r="2.4" fill="#4b4fd6"/><circle cx="6.8" cy="5.2" r="1.1" fill="#eef0ff"/></svg><div class="a" style="left:1751px;top:358px;width:27px;height:24px;background:rgba(220,220,248,.35);clip-path:polygon(25% 0,75% 0,100% 50%,75% 100%,25% 100%,0 50%)"></div><div class="a" style="left:1781px;top:358px;width:27px;height:24px;background:#fff;clip-path:polygon(25% 0,75% 0,100% 50%,75% 100%,25% 100%,0 50%)"></div><svg class="a" style="left:1787px;top:363px" width="14" height="14" viewBox="0 0 14 14"><path d="M7,2.5 h-5 v9.5 h9.5 v-5" fill="none" stroke="#4b4fd6" stroke-width="1.3"/><path d="M5.5,8.5 l0.5,-2.5 l6,-5.5 l2,2 l-6,5.5 z" fill="none" stroke="#4b4fd6" stroke-width="1.3"/></svg><div class="a" style="left:1810px;top:358px;width:27px;height:24px;background:#fff;clip-path:polygon(25% 0,75% 0,100% 50%,75% 100%,25% 100%,0 50%)"></div><svg class="a" style="left:1817px;top:362px" width="13" height="15" viewBox="0 0 13 15"><path d="M4.5,2.5 v-1.5 h4 v1.5" fill="none" stroke="#4b4fd6" stroke-width="1.2"/><line x1="0.5" y1="3" x2="12.5" y2="3" stroke="#4b4fd6" stroke-width="1.4"/><path d="M2,3.5 v10 h9 v-10" fill="none" stroke="#4b4fd6" stroke-width="1.3"/><g stroke="#4b4fd6" stroke-width="1"><line x1="4.5" y1="5.5" x2="4.5" y2="11.5"/><line x1="6.5" y1="5.5" x2="6.5" y2="11.5"/><line x1="8.5" y1="5.5" x2="8.5" y2="11.5"/></g></svg><div class="a" style="left:1768px;top:387px;width:51px;height:25px;background:#484848;border:1px solid #fff;color:#fff;font-size:12px;line-height:23px;text-align:center">Details</div><div class="a" style="left:1843px;top:346px;width:10px;height:518px;background:#e8ebfb"></div><svg class="a" style="left:1845px;top:352px" width="7" height="5" viewBox="0 0 7 5"><polygon points="0,5 7,5 3.5,0" fill="#c4c7d3"/></svg><div class="a" style="left:1845px;top:362px;width:6px;height:158px;background:#b8bccb;border-radius:3px"></div><svg class="a" style="left:1845px;top:853px" width="7" height="5" viewBox="0 0 7 5"><polygon points="0,0 7,0 3.5,5" fill="#c4c7d3"/></svg><div class="a" style="left:289px;top:864px;width:1564px;height:11px;background:#e8ebfb"></div><svg class="a" style="left:293px;top:866px" width="5" height="7" viewBox="0 0 5 7"><polygon points="5,0 5,7 0,3.5" fill="#c4c7d3"/></svg><div class="a" style="left:730px;top:866px;width:1098px;height:6px;background:#b8bccb;border-radius:3px"></div><svg class="a" style="left:1833px;top:866px" width="5" height="7" viewBox="0 0 5 7"><polygon points="0,0 0,7 5,3.5" fill="#c4c7d3"/></svg><div class="a" style="left:289px;top:875px;width:1564px;height:1px;background:#e4e4ea"></div><svg class="a" style="left:304px;top:890px" width="9" height="10" viewBox="0 0 9 10"><polygon points="8,1 8,9 2.5,5" fill="#666"/><rect x="0.5" y="1" width="1.4" height="8" fill="#666"/></svg><svg class="a" style="left:331px;top:890px" width="9" height="10" viewBox="0 0 9 10"><polygon points="8,1 8,9 2.5,5" fill="#666"/></svg><div class="a" style="left:351px;top:881px;width:28px;height:28px;background:#d0d1f1;color:#4b4fc6;font-size:12px;line-height:28px;text-align:center">1</div><svg class="a" style="left:389px;top:890px" width="9" height="10" viewBox="0 0 9 10"><polygon points="1,1 1,9 6.5,5" fill="#666"/></svg><svg class="a" style="left:415px;top:890px" width="9" height="10" viewBox="0 0 9 10"><polygon points="1,1 1,9 6.5,5" fill="#666"/><rect x="7.1" y="1" width="1.4" height="8" fill="#666"/></svg><div class="t" style="left:446px;top:886px;height:18px;width:30px;background:#3367d6;color:#fff;font-size:12px;line-height:18px;padding-left:1px">Page</div><div class="a" style="left:479px;top:881px;width:59px;height:28px;background:#f4f5f9;border:1px solid #e6e9f8;border-radius:5px"></div><div class="t" style="left:489px;top:886px;height:18px;width:7px;background:#3367d6;color:#fff;font-size:12px;line-height:18px">1</div><div class="t" style="left:544px;top:886px;height:18px;width:21px;background:#3367d6;color:#fff;font-size:12px;line-height:18px;padding-left:1px">of 1</div><div class="a" style="left:575px;top:881px;width:58px;height:28px;background:#f4f5f9;border:1px solid #e6e9f8;border-radius:5px;overflow:hidden"><div class="dd" style="width:25px"></div></div><div class="t" style="left:585px;top:886px;height:18px;width:14px;background:#3367d6;color:#fff;font-size:12px;line-height:18px">10</div><svg class="a" style="left:617px;top:892px" width="8" height="6" viewBox="0 0 8 5"><polygon points="0,0 8,0 4,5" fill="#4b4fd6"/></svg><div class="t" style="left:640px;top:886px;height:18px;width:23px;background:#3367d6;font-size:12px;line-height:18px"></div><div class="t" style="left:640px;top:886px;font-size:12px;line-height:18px;color:#333"><span style="color:#fff">item</span>s per page</div><div class="t" style="left:1722px;top:887px;font-size:12px;line-height:14px;color:#333;letter-spacing:-0.25px">1 - 38 of 38 items</div><svg class="a" style="left:1827px;top:887px" width="14" height="15" viewBox="0 0 14 15"><path d="M11.5,8.5 a4.8,4.8 0 1 1 -2.2,-4.5" fill="none" stroke="#222" stroke-width="1.6"/><polygon points="8,0.5 12.5,3.5 8,6.5" fill="#222"/></svg><svg class="a" style="left:1620px;top:280px;filter:drop-shadow(0 2px 3px rgba(40,40,120,.35))" width="160" height="100" viewBox="0 0 160 100"><polygon points="18,19.8 121.9,66.9 124.2,63 141.3,85 112.1,83.2 116.5,75.9 18.5,22" fill="#8fd13c"/></svg></div></body></html>
